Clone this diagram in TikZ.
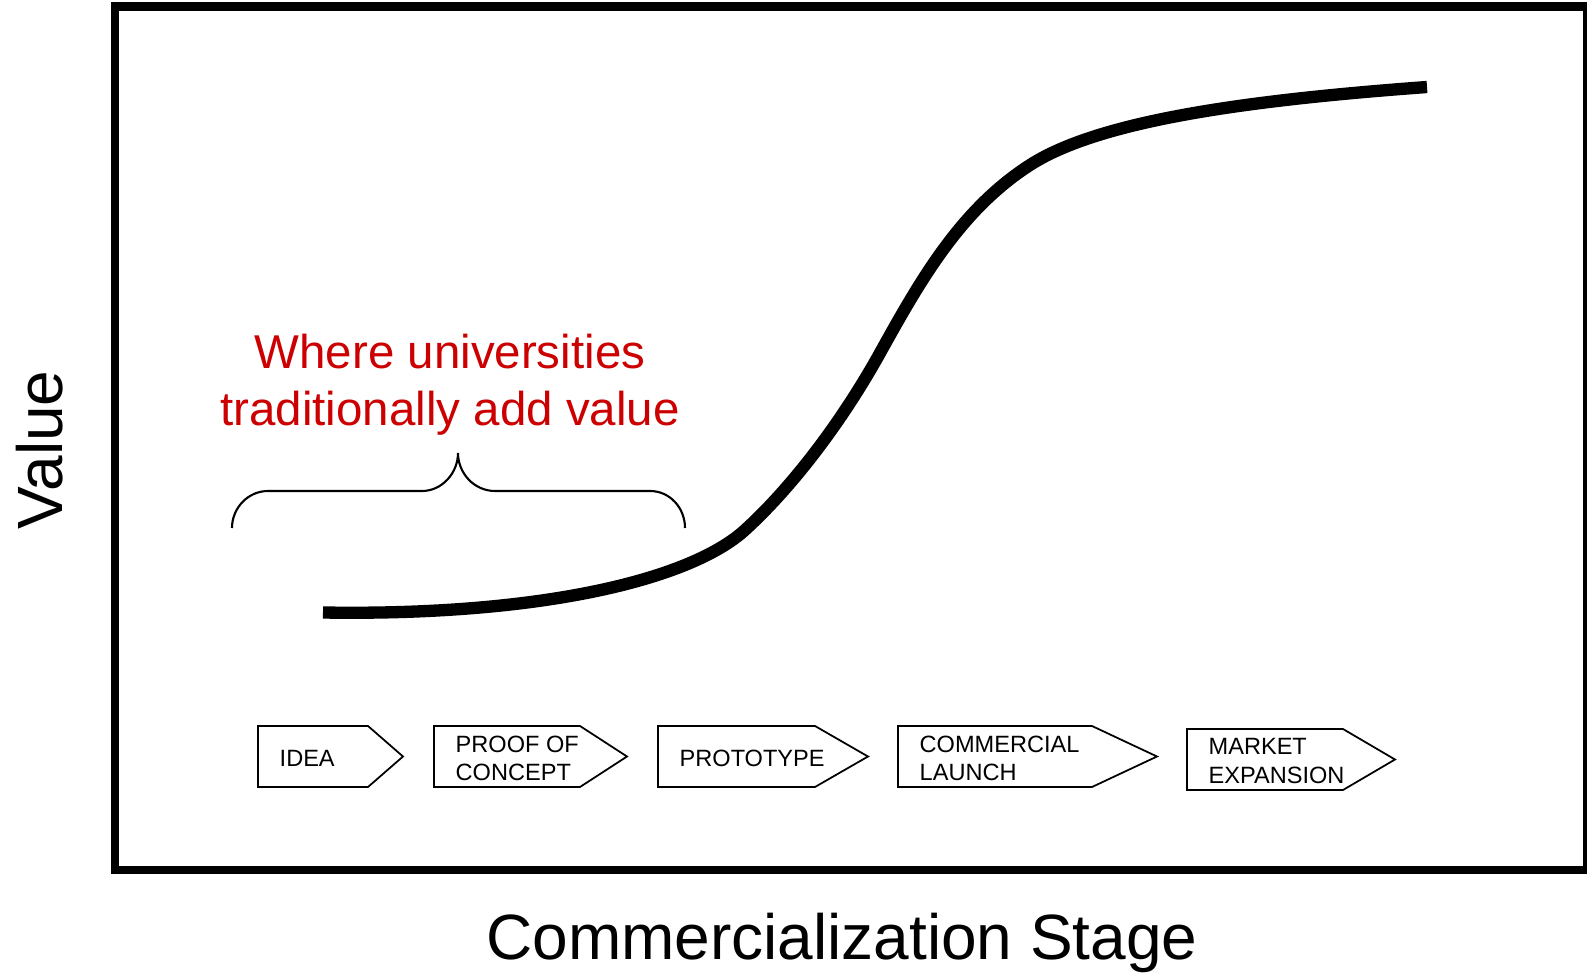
\documentclass[tikz,border=0pt]{standalone}
\usepackage{fontspec}
\setmainfont{Liberation Sans}
\definecolor{unired}{RGB}{204,0,0}
\tikzset{
  frame/.style={line width=2.3pt},
  scurve/.style={line width=3.5pt},
  bracket/.style={line width=0.6pt},
  stage/.style={draw, line width=0.5pt, line join=miter},
  stagetext/.style={anchor=west, align=left, inner sep=0pt, font=\fontsize{6.7}{8}\selectfont},
  axistitle/.style={inner sep=0pt, font=\fontsize{18.2}{20}\selectfont}
}

\begin{document}
\begin{tikzpicture}[x=0.01cm, y=-0.01cm]
\useasboundingbox (0,0) rectangle (1587,976);

% plot frame
\draw[frame] (115,6.5) rectangle (1587,870);

% value over the stages (s-curve)
\draw[scurve] (323,612.5) .. controls (540,616) and (690,580) .. (745,530)
  .. controls (790,489) and (840,425) .. (880,353)
  .. controls (920,281) and (960,210) .. (1030,165)
  .. controls (1100,120) and (1250,100) .. (1427,87);

% brace over the early stages
\draw[bracket] (232,528) .. controls (232,508) and (248,491) .. (268,491)
  -- (422,491) .. controls (442,491) and (458,473) .. (458,453)
  .. controls (458,473) and (474,491) .. (495,491)
  -- (650,491) .. controls (670,491) and (685,508) .. (685,528);
\node[text=unired, align=center, inner sep=0pt, font=\fontsize{13.5}{16.2}\selectfont]
  (uni) at (450,385) {Where universities\\traditionally add value};

% stages
\foreach \x/\r/\t/\yt/\lbl [count=\i] in {
    258/368/403/726/IDEA,
    434/580/627/726/{PROOF OF\\CONCEPT},
    658/815/868/726/PROTOTYPE,
    898/1092/1157/726/{COMMERCIAL\\LAUNCH},
    1187/1343/1395/729/{MARKET\\EXPANSION}} {
  \draw[stage] (\x,\yt) -- (\r,\yt) -- (\t,\yt+30.5) -- (\r,\yt+61) -- (\x,\yt+61) -- cycle;
  \node[stagetext] (stage\i) at (\x+21,\yt+32) {\lbl};
}

% axis titles
\node[axistitle, anchor=base] (xlabel) at (842,959) {Commercialization Stage};
\node[axistitle, rotate=90, anchor=base] (ylabel) at (62,450) {Value};
\end{tikzpicture}
\end{document}
